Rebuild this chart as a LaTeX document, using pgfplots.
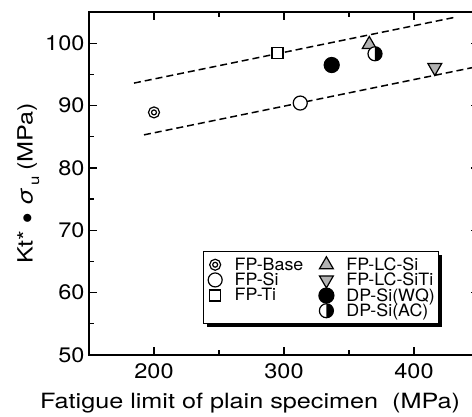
\documentclass[border=0pt]{standalone}
\usepackage{pgfplots}
\pgfplotsset{compat=1.18}
\usepackage{fontspec}
\setmainfont[FakeStretch=1.12]{TeX Gyre Heros}
\newfontfamily\labfont[FakeStretch=1.2]{TeX Gyre Heros}
\newfontfamily\legfont[FakeStretch=1.05]{TeX Gyre Heros}
\newcommand\lf{\legfont\fontsize{17}{17}\selectfont}
\newcommand\tf{\fontsize{21}{21}\selectfont}
\usetikzlibrary{shadows}

\pgfdeclareplotmark{dblcirc}{%
 \pgfpathcircle{\pgfpointorigin}{\pgfplotmarksize}\pgfusepathqstroke
 \pgfpathcircle{\pgfpointorigin}{0.45\pgfplotmarksize}\pgfusepathqstroke}
\pgfdeclareplotmark{halfcirc}{%
 \pgfpathcircle{\pgfpointorigin}{\pgfplotmarksize}%
 \pgfsetfillcolor{white}\pgfusepathqfillstroke
 \pgfpathmoveto{\pgfpoint{0pt}{\pgfplotmarksize}}%
 \pgfpatharc{90}{-90}{\pgfplotmarksize}%
 \pgfpathclose
 \pgfsetfillcolor{black}\pgfusepathqfill}

\begin{document}
\begin{tikzpicture}
\clip (-89pt,-62pt) rectangle (383pt,355pt);
\begin{axis}[
  at={(0,0)}, anchor=south west,
  scale only axis, width=390pt, height=343pt,
  xmin=150, xmax=450, ymin=50, ymax=105,
  xtick={200,300,400}, ytick={50,60,...,100},
  minor tick num=1,
  tick align=inside, major tick length=8pt, minor tick length=5pt,
  every tick/.style={line width=1.2pt},
  axis line style={line width=1.6pt},
  /pgf/number format/assume math mode=true,
  xticklabel={\tf\pgfmathprintnumber{\tick}},
  yticklabel={\tf\pgfmathprintnumber{\tick}},
  tick label style={font=\tf},
  xticklabel style={yshift=-5pt},
  yticklabel style={xshift=-1pt},
  label style={font=\labfont\fontsize{21}{22}\selectfont},
  xlabel={\labfont\fontsize{21}{22}\selectfont Fatigue limit of plain specimen\ \ (MPa)},
  ylabel={\labfont\fontsize{21}{22}\selectfont Kt* $\bullet$ {\itshape σ}\hspace{4pt}\raisebox{-0.6ex}{\fontsize{14}{14}\selectfont u}\hspace{5pt}(MPa)},
  xlabel style={at={(ticklabel cs:0.413)}, yshift=-8pt},
  ylabel style={yshift=-1pt},
  legend columns=2, legend cell align=left,
  legend style={at={(0.2923,0.0904)}, anchor=south west, draw, line width=1.3pt,
    font=\lf, inner xsep=3pt, inner ysep=5pt, row sep=0pt,
    nodes={inner sep=0.5pt},
    drop shadow={shadow xshift=3.5pt,shadow yshift=-3.5pt,opacity=1,fill=black},
    /tikz/every odd column/.append style={column sep=12pt},
    /tikz/every even column/.append style={column sep=15pt}},
]
\addplot[forget plot, line width=1.5pt, dash pattern=on 7pt off 4pt] coordinates {(184.6,93.6) (430.3,104.1)};
\addplot[forget plot, line width=1.5pt, dash pattern=on 7pt off 4pt] coordinates {(192.3,85.3) (450,96.3)};

\addplot[only marks, mark=dblcirc, mark size=5.5pt, mark options={line width=1.2pt}] coordinates {(200,88.9)};
\addlegendentry{\lf FP-Base}
\addplot[only marks, mark=triangle*, mark size=8pt, mark options={line width=1.2pt, fill=gray!60, draw=black}] coordinates {(365.6,99.8)};
\addlegendentry{\lf FP-LC-Si}
\addplot[only marks, mark=*, mark size=7pt, mark options={line width=1.2pt, fill=white, draw=black}] coordinates {(312.5,90.4)};
\addlegendentry{\lf FP-Si}
\addplot[only marks, mark=triangle*, mark size=8pt, mark options={line width=1.2pt, fill=gray!60, draw=black, rotate=180}] coordinates {(416,96.1)};
\addlegendentry{\lf FP-LC-SiTi}
\addplot[only marks, mark=square*, mark size=5.5pt, mark options={line width=1.2pt, fill=white, draw=black}] coordinates {(295,98.4)};
\addlegendentry{\lf FP-Ti}
\addplot[only marks, mark=*, mark size=7.5pt, mark options={line width=1.2pt, fill=black, draw=black}] coordinates {(336.7,96.5)};
\addlegendentry{\lf DP-Si(WQ)}
\addlegendimage{empty legend}
\addlegendentry{}
\addplot[only marks, mark=halfcirc, mark size=7pt, mark options={line width=1.2pt}] coordinates {(370,98.3)};
\addlegendentry{\lf DP-Si(AC)}
\end{axis}
\end{tikzpicture}
\end{document}
